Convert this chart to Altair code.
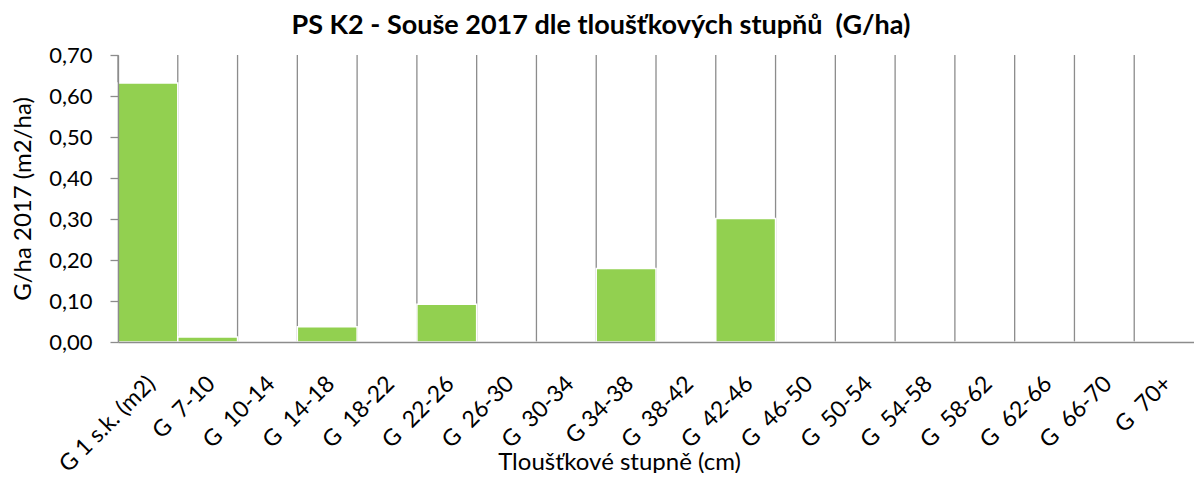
import altair as alt
import pandas as pd

categories = [
    "G 1 s.k. (m2)", "G\u00a0 7-10", "G\u00a0 10-14", "G\u00a0 14-18", "G\u00a0 18-22",
    "G\u00a0 22-26", "G\u00a0 26-30", "G\u00a0 30-34", "G 34-38", "G\u00a0 38-42",
    "G\u00a0 42-46", "G\u00a0 46-50", "G\u00a0 50-54", "G\u00a0 54-58", "G\u00a0 58-62",
    "G\u00a0 62-66", "G\u00a0 66-70", "G\u00a0 70+",
]
values = [0.632, 0.012, 0.0, 0.037, 0.0, 0.092, 0.0, 0.0, 0.179, 0.0,
          0.301, 0.0, 0.0, 0.0, 0.0, 0.0, 0.0, 0.0]
y_ticks = [0.0, 0.1, 0.2, 0.3, 0.4, 0.5, 0.6, 0.7]

title_text = "PS K2 - Souše 2017 dle tloušťkových stupňů \u00a0(G/ha)"
x_title = "Tloušťkové stupně (cm)"
y_title = "G/ha 2017 (m2/ha)"

FONT = "Lato"
GRAY = "#8c8c8c"

df = pd.DataFrame({"cat": categories, "val": values})

x_scale = alt.Scale(paddingInner=0, paddingOuter=0)
x_axis = alt.Axis(
    title=x_title, ticks=False, domainColor=GRAY, domainWidth=1.3,
    labelAngle=-45, labelAlign="right", labelBaseline="top",
    labelFontSize=23, labelFont=FONT, labelColor="black", labelPadding=30,
    labelOffset=-4, labelOverlap=False,
    titleFont=FONT, titleFontSize=24, titleFontWeight="normal", titleColor="black",
    titleX=501, titleY=120, titleBaseline="middle", titleAnchor="start", titleAlign="center",
    zindex=1,
)

grid = alt.Chart(df).mark_rule(color=GRAY, strokeWidth=1.3).encode(
    x=alt.X("cat:N", sort=categories, scale=x_scale, axis=x_axis, bandPosition=0),
)

bars = alt.Chart(df).mark_bar(color="#92D050", stroke="white", strokeWidth=1.5).encode(
    x=alt.X("cat:N", sort=categories, scale=x_scale, axis=x_axis),
    y=alt.Y(
        "val:Q",
        scale=alt.Scale(domain=[0, 0.7], nice=False),
        axis=alt.Axis(
            title=y_title, values=y_ticks, grid=False,
            labelExpr="replace(format(datum.value, '.2f'), '.', ',')",
            domainColor=GRAY, domainWidth=1.3, tickColor=GRAY, tickWidth=1.3, tickSize=8,
            labelFontSize=22, labelFont=FONT, labelColor="black", labelPadding=18,
            titleFont=FONT, titleFontSize=24, titleFontWeight="normal", titleColor="black",
            titleX=-95, titleY=143.5, titleAngle=-90, titleBaseline="middle", titleAlign="center",
            zindex=1,
        ),
    ),
)

chart = alt.layer(grid, bars).properties(
    width=1076,
    height=287,
    title=alt.TitleParams(
        title_text, fontSize=27, fontWeight="bold", font=FONT, color="black",
        anchor="middle", dx=-55, offset=4,
    ),
    padding={"left": 110, "top": 47, "right": 0, "bottom": 131},
    autosize=alt.AutoSizeParams(type="none"),
).configure_view(stroke=None)

chart.save("out.html", embed_options={"renderer": "svg", "actions": False})
